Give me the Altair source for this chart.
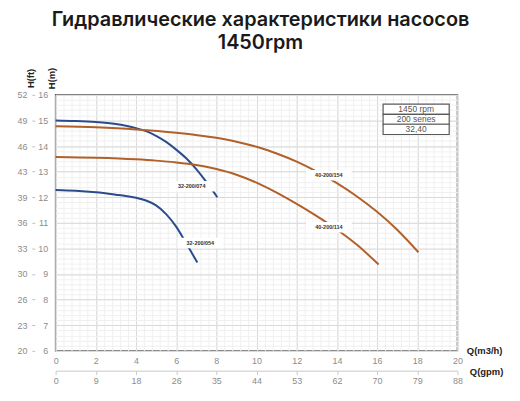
import altair as alt
import pandas as pd

# ---- pump curves (Q in m3/h, H in m) ----
q074 = [0, 1, 2, 3, 3.5, 4, 4.5, 5, 5.5, 6, 6.5, 7, 7.5, 8.05]
h074 = [15.0, 14.98, 14.94, 14.86, 14.79, 14.7, 14.58, 14.4, 14.16, 13.86, 13.52, 13.1, 12.6, 12.0]

q054 = [0, 1, 2, 3, 3.5, 4, 4.5, 5, 5.5, 6, 6.5, 7.05]
h054 = [12.28, 12.25, 12.19, 12.1, 12.05, 11.98, 11.87, 11.68, 11.34, 10.85, 10.2, 9.45]

q154 = [0, 2, 4, 6, 8, 9, 10, 11, 12, 13, 14, 15, 16, 17, 18.06]
h154 = [14.77, 14.73, 14.65, 14.52, 14.32, 14.17, 13.97, 13.71, 13.39, 13.0, 12.55, 12.03, 11.43, 10.73, 9.85]

q114 = [0, 2, 4, 5, 6, 7, 8, 9, 10, 11, 12, 13, 14, 15, 16.08]
h114 = [13.57, 13.54, 13.48, 13.43, 13.36, 13.26, 13.1, 12.88, 12.57, 12.18, 11.74, 11.26, 10.74, 10.14, 9.37]

pumps = ["32-200/074", "32-200/054", "40-200/154", "40-200/114"]
pump_colors = ["#2B4C8C", "#2B4C8C", "#B0612A", "#B0612A"]

# curve labels (centre, data units)
label_q = [6.77, 7.2, 13.6, 13.6]
label_h = [12.43, 10.21, 12.86, 10.83]

# info table
tbl_text = ["1450 rpm", "200 series", "32,40"]
tbl_h_top = [15.64, 15.24, 14.85]
tbl_h_bot = [15.24, 14.85, 14.45]
tbl_q_left = 16.30
tbl_q_right = 19.59

# axis ticks
major_x = [0, 2, 4, 6, 8, 10, 12, 14, 16, 18, 20]
minor_x = [round(i * 0.4, 1) for i in range(51)]
major_y = [6, 7, 8, 9, 10, 11, 12, 13, 14, 15, 16]
minor_y = [round(6 + i * 0.2, 1) for i in range(51)]

rows = []
for name, qs, hs in zip(pumps, [q074, q054, q154, q114], [h074, h054, h154, h114]):
    for q, h in zip(qs, hs):
        rows.append({"Q": q, "H": h, "pump": name})
df = pd.DataFrame(rows)

lab_df = pd.DataFrame({"Q": label_q, "H": label_h, "pump": pumps})
tbl_df = pd.DataFrame({
    "text": tbl_text,
    "top": tbl_h_top,
    "bot": tbl_h_bot,
    "mid": [(a + b) / 2 for a, b in zip(tbl_h_top, tbl_h_bot)],
    "ql": [tbl_q_left] * 3,
    "qr": [tbl_q_right] * 3,
    "qm": [(tbl_q_left + tbl_q_right) / 2] * 3,
})

xs = alt.Scale(domain=[0, 20], nice=False, zero=False)
ys = alt.Scale(domain=[6, 16], nice=False, zero=False)

LF = "Liberation Sans"
LC = "#8c8c8c"

base = alt.Chart(df)

minor = base.mark_point(opacity=0).encode(
    x=alt.X("Q:Q", scale=xs, axis=alt.Axis(orient="bottom", values=minor_x, grid=True,
            gridColor="#f0f0f0", labels=False, ticks=False, domain=False, title=None)),
    y=alt.Y("H:Q", scale=ys, axis=alt.Axis(orient="left", values=minor_y, grid=True,
            gridColor="#f0f0f0", labels=False, ticks=False, domain=False, title=None)),
)

major = base.mark_point(opacity=0).encode(
    x=alt.X("Q:Q", scale=xs, axis=alt.Axis(
        orient="bottom", values=major_x, grid=True, gridColor="#d9d9d9", ticks=False,
        domain=False, labelPadding=6, labelFont=LF, labelFontSize=9, labelColor=LC,
        labelFlush=False, labelOverlap=False,
        title="Q(m3/h)", titleX=414, titleY=0, titleAlign="left", titleBaseline="middle",
        titleFont=LF, titleFontSize=9.5, titleFontWeight="bold", titleColor="#222222")),
    y=alt.Y("H:Q", scale=ys, axis=alt.Axis(
        orient="left", values=major_y, grid=True, gridColor="#d9d9d9", ticks=False,
        domain=False, labelPadding=8, labelFont=LF, labelFontSize=9, labelColor=LC,
        labelFlush=False, labelOverlap=False,
        title="H(m)", titleX=-4, titleY=-17, titleAngle=270, titleAlign="center",
        titleBaseline="middle", titleFont=LF, titleFontSize=9.5, titleFontWeight="bold",
        titleColor="#222222")),
)

secondary = base.mark_point(opacity=0).encode(
    x=alt.X("Q:Q", scale=xs, axis=alt.Axis(
        orient="bottom", offset=20, values=major_x, labelExpr="round(datum.value*4.403)",
        grid=False, domain=True, domainColor="#c8c8c8", ticks=True, tickColor="#c8c8c8",
        tickSize=4, labelPadding=2, labelFont=LF, labelFontSize=9, labelColor=LC,
        labelFlush=False, labelOverlap=False,
        title="Q(gpm)", titleX=417, titleY=1, titleAlign="left", titleBaseline="middle",
        titleFont=LF, titleFontSize=9.5, titleFontWeight="bold", titleColor="#222222")),
    y=alt.Y("H:Q", scale=ys, axis=alt.Axis(
        orient="left", offset=21, values=major_y, labelExpr="round(datum.value*3.2808)",
        grid=False, domain=False, ticks=True, tickSize=3, tickColor="#bfbfbf",
        labelPadding=5, labelFont=LF, labelFontSize=9, labelColor=LC,
        labelFlush=False, labelOverlap=False,
        title="H(ft)", titleX=-4, titleY=-17, titleAngle=270, titleAlign="center",
        titleBaseline="middle", titleFont=LF, titleFontSize=9.5, titleFontWeight="bold",
        titleColor="#222222")),
)

lines = base.mark_line(strokeWidth=2, interpolate="monotone").encode(
    x=alt.X("Q:Q", scale=xs, axis=None),
    y=alt.Y("H:Q", scale=ys, axis=None),
    color=alt.Color("pump:N", scale=alt.Scale(domain=pumps, range=pump_colors), legend=None),
    detail="pump:N",
)

boxes = alt.Chart(lab_df).mark_point(
    shape="M-1,-0.23L1,-0.23L1,0.23L-1,0.23Z", filled=True, fill="white", opacity=1,
    strokeWidth=0, size=2116,
).encode(
    x=alt.X("Q:Q", scale=xs, axis=None),
    y=alt.Y("H:Q", scale=ys, axis=None),
)

labels = alt.Chart(lab_df).mark_text(
    font=LF, fontSize=5.5, fontWeight="bold", color="#333333", align="center", baseline="middle"
).encode(
    x=alt.X("Q:Q", scale=xs, axis=None),
    y=alt.Y("H:Q", scale=ys, axis=None),
    text="pump:N",
)

tbl_rect = alt.Chart(tbl_df).mark_rect(fill="white", stroke="#595959", strokeWidth=1.2).encode(
    x=alt.X("ql:Q", scale=xs, axis=None),
    x2="qr:Q",
    y=alt.Y("top:Q", scale=ys, axis=None),
    y2="bot:Q",
)

tbl_txt = alt.Chart(tbl_df).mark_text(
    font=LF, fontSize=8.5, color="#555555", align="center", baseline="middle"
).encode(
    x=alt.X("qm:Q", scale=xs, axis=None),
    y=alt.Y("mid:Q", scale=ys, axis=None),
    text="text:N",
)

chart = alt.layer(
    minor, major, secondary, lines, boxes, labels, tbl_rect, tbl_txt
).resolve_axis(
    x="independent", y="independent"
).properties(
    width=405,
    height=258,
    autosize=alt.AutoSizeParams(type="none"),
    padding={"left": 48, "top": 86, "right": 55, "bottom": 40},
    title=alt.TitleParams(
        text=["Гидравлические характеристики насосов", "1450rpm"],
        font="Inter", fontSize=20, fontWeight=600, color="#1a1a1a",
        anchor="middle", frame="group", offset=14, dx=4, lineHeight=24,
    ),
).configure_view(
    stroke="#5a5a5a", strokeWidth=1.5
)

chart.save("out.html", embed_options={"renderer": "svg", "actions": False})
